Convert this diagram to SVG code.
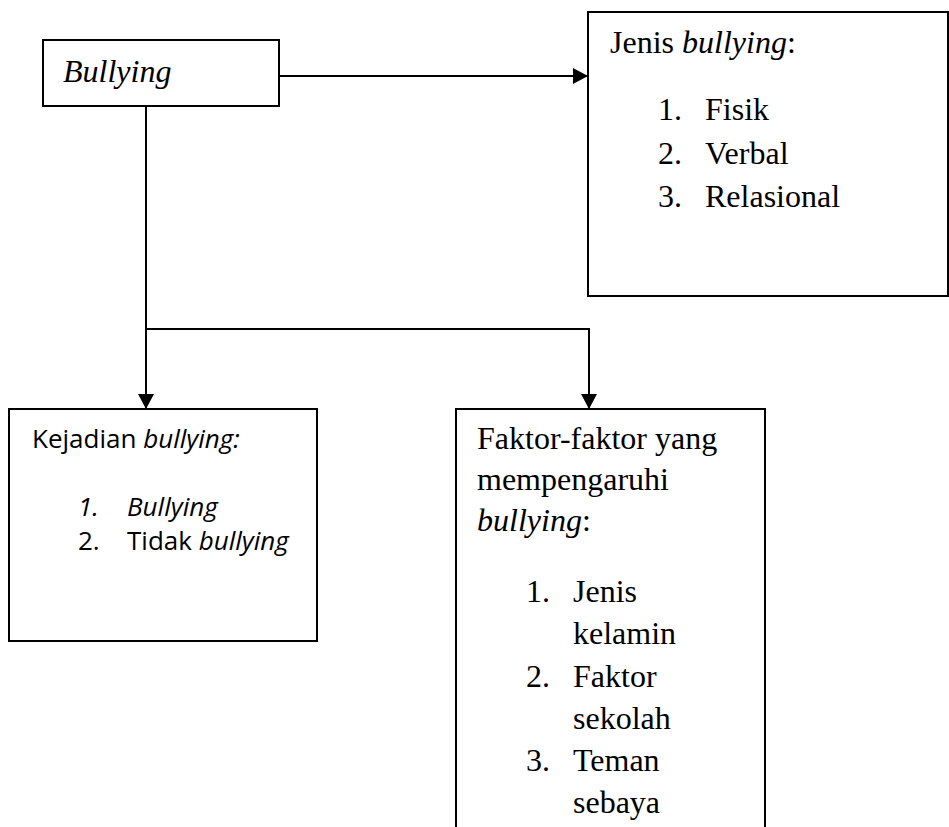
<svg xmlns="http://www.w3.org/2000/svg" width="949" height="827" viewBox="0 0 949 827">
<style>
.box{fill:#fff;stroke:#000;stroke-width:2}
.serif{font-family:"Liberation Serif","Times New Roman",serif;font-size:32px;fill:#000}
.sans{font-family:"Open Sans","Noto Sans",sans-serif;font-size:26px;fill:#000}
.it{font-style:italic}
.conn{fill:none;stroke:#000;stroke-width:2}
</style>
<defs>
<marker id="ah" markerUnits="userSpaceOnUse" markerWidth="17" markerHeight="17" refX="15" refY="8" orient="auto">
<path d="M0,0 L15,8 L0,16 z" fill="#000"/>
</marker>
</defs>
<rect width="949" height="827" fill="#fff"/>
<g id="connectors">
<line class="conn" x1="279" y1="76" x2="588" y2="76" marker-end="url(#ah)"/>
<polyline class="conn" points="146,106 146,329"/>
<polyline class="conn" points="146,329 146,409" marker-end="url(#ah)"/>
<polyline class="conn" points="146,329 589,329 589,409" marker-end="url(#ah)"/>
</g>
<g id="bullying">
<rect class="box" x="43" y="40" width="236" height="66"/>
<text class="serif it" x="63" y="82">Bullying</text>
</g>
<g id="jenis">
<rect class="box" x="588" y="12" width="360" height="284"/>
<text class="serif" x="610" y="53">Jenis <tspan class="it">bullying</tspan>:</text>
<text class="serif" x="658" y="120">1.</text><text class="serif" x="705" y="120">Fisik</text>
<text class="serif" x="658" y="164">2.</text><text class="serif" x="705" y="164">Verbal</text>
<text class="serif" x="658" y="207">3.</text><text class="serif" x="705" y="207">Relasional</text>
</g>
<g id="kejadian">
<rect class="box" x="9" y="409" width="308" height="232"/>
<text class="sans" x="32" y="448">Kejadian <tspan class="it">bullying:</tspan></text>
<text class="sans it" x="78" y="516">1.</text><text class="sans it" x="127" y="516">Bullying</text>
<text class="sans" x="78" y="550">2.</text><text class="sans" x="127" y="550">Tidak <tspan class="it">bullying</tspan></text>
</g>
<g id="faktor">
<path class="conn" d="M456,828 L456,409 L765,409 L765,828"/>
<text class="serif" x="477" y="449">Faktor-faktor yang</text>
<text class="serif" x="477" y="490">mempengaruhi</text>
<text class="serif" x="477" y="531"><tspan class="it">bullying</tspan>:</text>
<text class="serif" x="526" y="602">1.</text><text class="serif" x="573" y="602">Jenis</text>
<text class="serif" x="573" y="644">kelamin</text>
<text class="serif" x="526" y="687">2.</text><text class="serif" x="573" y="687">Faktor</text>
<text class="serif" x="573" y="729">sekolah</text>
<text class="serif" x="526" y="771">3.</text><text class="serif" x="573" y="771">Teman</text>
<text class="serif" x="573" y="813">sebaya</text>
</g>
</svg>
